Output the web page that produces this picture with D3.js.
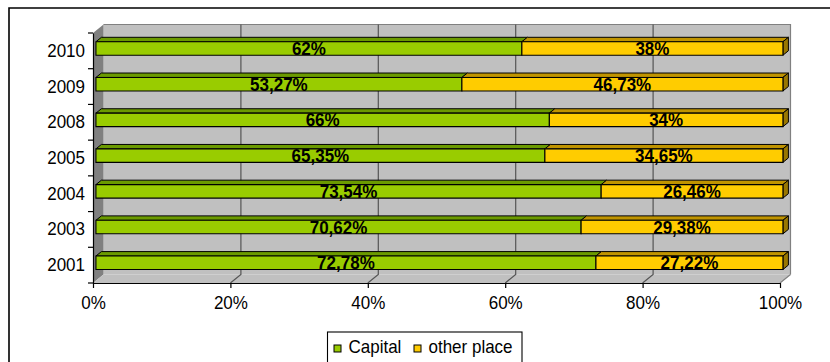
<!DOCTYPE html>
<html>
<head>
<meta charset="utf-8">
<script src="https://cdn.jsdelivr.net/npm/d3@7"></script>
<style>
  html, body { margin: 0; padding: 0; background: #fff; }
  svg { display: block; }
  text {
    font-family: "Liberation Sans", Arial, sans-serif;
    transform-box: fill-box;
    transform-origin: center;
    transform: scaleY(1.1);
  }
</style>
</head>
<body>
<svg id="chart" width="830" height="362"></svg>
<script>
// Share of cases by place, per year (percent)
const years = ["2010", "2009", "2008", "2005", "2004", "2003", "2001"];
const capital = [62, 53.27, 66, 65.35, 73.54, 70.62, 72.78];
const otherPlace = [38, 46.73, 34, 34.65, 26.46, 29.38, 27.22];
const seriesNames = ["Capital", "other place"];
const xTicks = [0, 20, 40, 60, 80, 100];

const colors = {
  capital: { front: "#99CC00", top: "#6B9A00", side: "#4D7000" },
  other:   { front: "#FFCC00", top: "#C09400", side: "#997700" }
};
const FONT = "'Liberation Sans', Arial, sans-serif";

const svg = d3.select("#chart");

// Plot geometry: front plane plus a depth offset for the 3D box
const plot = { left: 93, right: 780, top: 33, bottom: 283 };
const depth = { dx: 10.5, dy: -8.5 };
const proj = (x, y, z) => [x + z * depth.dx, y + z * depth.dy];

const x = d3.scaleLinear().domain([0, 100]).range([plot.left, plot.right]);
const y = d3.scaleBand().domain(years).range([plot.top, plot.bottom]);

// Outer frame
svg.append("path")
  .attr("d", "M9,363 L9,8 L831,8")
  .attr("fill", "none").attr("stroke", "#000").attr("stroke-width", 1.6);

const poly = pts => "M" + pts.map(p => p.join(",")).join("L") + "Z";

// Back wall
const bw = [proj(plot.left, plot.top, 1), proj(plot.right, plot.top, 1),
            proj(plot.right, plot.bottom, 1), proj(plot.left, plot.bottom, 1)];
svg.append("path").attr("d", poly(bw)).attr("fill", "#C0C0C0").attr("stroke", "none");
svg.append("path")
  .attr("d", "M" + bw[0].join(",") + "L" + bw[1].join(",") + "L" + bw[2].join(","))
  .attr("fill", "none").attr("stroke", "#808080").attr("stroke-width", 1.2);

// Side wall on the left
svg.append("path")
  .attr("d", poly([proj(plot.left, plot.top, 0), proj(plot.left, plot.top, 1),
                   proj(plot.left, plot.bottom, 1), proj(plot.left, plot.bottom, 0)]))
  .attr("fill", "#808080").attr("stroke", "none");

// Floor
svg.append("path")
  .attr("d", poly([proj(plot.left, plot.bottom, 0), proj(plot.left, plot.bottom, 1),
                   proj(plot.right, plot.bottom, 1), proj(plot.right, plot.bottom, 0)]))
  .attr("fill", "#C0C0C0").attr("stroke", "none");
svg.append("path")
  .attr("d", "M" + proj(plot.right, plot.bottom, 0).join(",") + "L" + proj(plot.right, plot.bottom, 1).join(","))
  .attr("stroke", "#808080").attr("stroke-width", 1.2);

// Gridlines on back wall and floor
xTicks.slice(1, -1).forEach(t => {
  const a = proj(x(t), plot.top, 1), b = proj(x(t), plot.bottom, 1), c = proj(x(t), plot.bottom, 0);
  svg.append("path")
    .attr("d", "M" + a.join(",") + "L" + b.join(",") + "L" + c.join(","))
    .attr("fill", "none").attr("stroke", "#555").attr("stroke-width", 1.2);
});

// Bars: stacked 3D boxes
const barH = 13.5;
const zFront = 0.28, zBack = 0.8;
const rows = years.map((yr, i) => ({
  year: yr,
  parts: [
    { key: "capital", v0: 0, v1: capital[i], value: capital[i] },
    { key: "other", v0: capital[i], v1: capital[i] + otherPlace[i], value: otherPlace[i] }
  ]
}));

const fmt = v => (Number.isInteger(v) ? String(v) : v.toFixed(2).replace(".", ",")) + "%";

const barG = svg.append("g");
rows.forEach(r => {
  const c = y(r.year) + y.bandwidth() / 2;
  const yt = c - barH / 2, yb = c + barH / 2;
  r.parts.forEach((p, j) => {
    const x0 = x(p.v0), x1 = x(p.v1);
    const col = colors[p.key];
    // top face
    barG.append("path")
      .attr("d", poly([proj(x0, yt, zFront), proj(x0, yt, zBack), proj(x1, yt, zBack), proj(x1, yt, zFront)]))
      .attr("fill", col.top).attr("stroke", "#000").attr("stroke-width", 1).attr("stroke-linejoin", "round");
    // right face for the last segment
    if (j === r.parts.length - 1) {
      barG.append("path")
        .attr("d", poly([proj(x1, yt, zFront), proj(x1, yt, zBack), proj(x1, yb, zBack), proj(x1, yb, zFront)]))
        .attr("fill", col.side).attr("stroke", "#000").attr("stroke-width", 1).attr("stroke-linejoin", "round");
    }
    // front face
    barG.append("path")
      .attr("d", poly([proj(x0, yt, zFront), proj(x1, yt, zFront), proj(x1, yb, zFront), proj(x0, yb, zFront)]))
      .attr("fill", col.front).attr("stroke", "#000").attr("stroke-width", 1.1);
  });
});

// Value labels
rows.forEach(r => {
  const c = y(r.year) + y.bandwidth() / 2;
  r.parts.forEach(p => {
    const pos = proj((x(p.v0) + x(p.v1)) / 2, c, zFront);
    svg.append("text")
      .attr("x", pos[0]).attr("y", pos[1] + 6)
      .attr("text-anchor", "middle")
      .attr("font-size", 17).attr("font-weight", "bold").attr("fill", "#000")
      .text(fmt(p.value));
  });
});

// Category axis
const yAxis = svg.append("g")
  .attr("transform", `translate(${plot.left},0)`)
  .call(d3.axisLeft(y).tickSize(0).tickPadding(8));
yAxis.select(".domain").attr("stroke", "#000").attr("stroke-width", 1.2);
yAxis.selectAll("text").attr("font-size", 17).attr("fill", "#000").attr("font-family", FONT);
const bounds = years.map(d => y(d)).concat([plot.bottom]);
yAxis.selectAll(".bound").data(bounds).join("line")
  .attr("class", "bound")
  .attr("x1", -5).attr("x2", 0)
  .attr("y1", d => d).attr("y2", d => d)
  .attr("stroke", "#000").attr("stroke-width", 1.2);

// Value axis
const xAxis = svg.append("g")
  .attr("transform", `translate(0,${plot.bottom})`)
  .call(d3.axisBottom(x).tickValues(xTicks).tickFormat(d => d + "%").tickSizeInner(5).tickSizeOuter(0).tickPadding(8.4));
xAxis.select(".domain").attr("stroke", "#000").attr("stroke-width", 1.2);
xAxis.selectAll("line").attr("stroke", "#000").attr("stroke-width", 1.2);
xAxis.selectAll("text").attr("font-size", 17).attr("fill", "#000").attr("font-family", FONT);

// Legend
const legend = svg.append("g");
legend.append("rect")
  .attr("x", 327.5).attr("y", 332).attr("width", 194.5).attr("height", 34)
  .attr("fill", "#fff").attr("stroke", "#000").attr("stroke-width", 1.1);
const legendItems = [
  { name: seriesNames[0], color: colors.capital.front, x: 334 },
  { name: seriesNames[1], color: colors.other.front, x: 414 }
];
legendItems.forEach(it => {
  legend.append("rect")
    .attr("x", it.x).attr("y", 345).attr("width", 7).attr("height", 7)
    .attr("fill", it.color).attr("stroke", "#000").attr("stroke-width", 1);
  legend.append("text")
    .attr("x", it.x + 14.5).attr("y", 352.5)
    .attr("font-size", 17).attr("fill", "#000")
    .text(it.name);
});
</script>
</body>
</html>
